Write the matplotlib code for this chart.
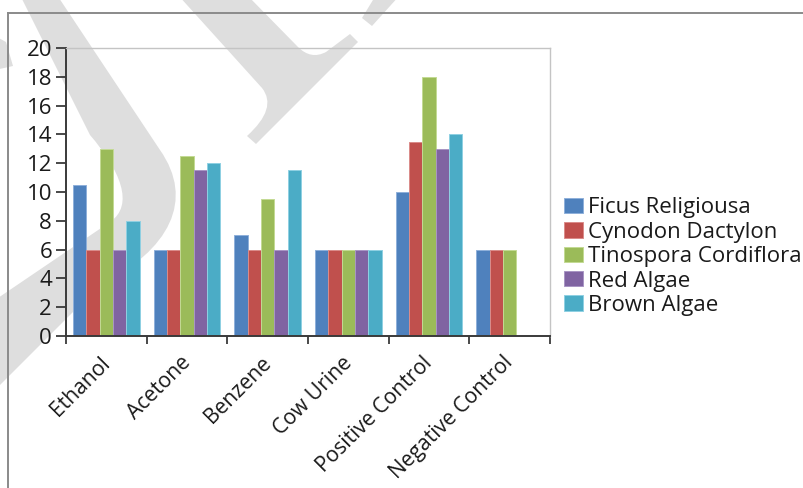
import numpy as np
import matplotlib
matplotlib.use("Agg")
import matplotlib.pyplot as plt
import matplotlib.transforms as mtransforms
from matplotlib.path import Path
from matplotlib.patches import PathPatch
from matplotlib.lines import Line2D

plt.rcParams['font.family'] = ['Open Sans', 'DejaVu Sans']

# ---- data ----
categories = ["Ethanol", "Acetone", "Benzene", "Cow Urine",
              "Positive Control", "Negative Control"]
series_names = ["Ficus Religiousa", "Cynodon Dactylon", "Tinospora Cordiflora",
                "Red Algae", "Brown Algae"]
ficus = [10.5, 6, 7, 6, 10, 6]
cynodon = [6, 6, 6, 6, 13.5, 6]
tinospora = [13, 12.5, 9.5, 6, 18, 6]
red_algae = [6, 11.5, 6, 6, 13, 0]
brown_algae = [8, 12, 11.5, 6, 14, 0]
y_ticks = [0, 2, 4, 6, 8, 10, 12, 14, 16, 18, 20]

series_values = [ficus, cynodon, tinospora, red_algae, brown_algae]
colors = ["#4F81BD", "#C0504D", "#9BBB59", "#8064A2", "#4BACC6"]
edges = ["#8FB0DA", "#DA8C8A", "#C3DA94", "#A996C4", "#8FD0E2"]

W, H = 804, 488
fig = plt.figure(figsize=(W / 100, H / 100), dpi=100)


def px(x, y):
    return (x / W, 1 - y / H)


# ---- faint background watermark strokes ----
wm_color = "#DEDEDE"
M, L, C3, C4, CL = Path.MOVETO, Path.LINETO, Path.CURVE3, Path.CURVE4, Path.CLOSEPOLY
shapes = [
    # large S-like stroke
    ([(20, -5), (57, -5), (160, 150), (195, 200), (170, 250), (100, 285),
      (-5, 390), (-5, 300), (110, 222), (135, 205), (120, 170), (90, 135),
      (20, -5)],
     [M, L, L, C4, C4, C4, L, L, L, C4, C4, C4, CL]),
    # forked stroke
    ([(178, -5), (247, -5), (298, 47), (311, 60), (326, 52), (350, 34),
      (358, 42), (256, 144), (247, 136), (278, 108), (262, 88), (178, -5)],
     [M, L, L, C3, C3, L, L, L, L, C3, C3, CL]),
    # short stroke at the top
    ([(376, -5), (400, -5), (372, 26), (362, 18), (376, -5)],
     [M, L, L, L, CL]),
    # sliver at the left edge
    ([(-5, 36), (6, 42), (13, 66), (-5, 70), (-5, 36)],
     [M, L, L, L, CL]),
]
for verts, codes in shapes:
    p = Path([px(x, y) for x, y in verts], codes)
    fig.patches.append(PathPatch(p, transform=fig.transFigure, facecolor=wm_color,
                                 edgecolor="none", zorder=-2))

# outer chart frame (top and left edges)
fig.lines.append(Line2D([px(8, 0)[0], px(8, 0)[0]], [px(0, 12.5)[1], px(0, 490)[1]],
                        transform=fig.transFigure, color="#8A8A8A", lw=1.4, zorder=-1))
fig.lines.append(Line2D([px(8, 0)[0], px(806, 0)[0]], [px(0, 12.5)[1], px(0, 12.5)[1]],
                        transform=fig.transFigure, color="#8A8A8A", lw=1.4, zorder=-1))

# ---- plot area ----
left, right, top, bottom = 66, 550, 48, 336
ax = fig.add_axes([left / W, 1 - bottom / H, (right - left) / W, (bottom - top) / H])
ax.set_facecolor("none")

n = len(series_names)
x = np.arange(len(categories))
bar_w = 0.165
for i, (name, vals) in enumerate(zip(series_names, series_values)):
    offs = (i - (n - 1) / 2) * bar_w
    ax.bar(x + offs, vals, width=bar_w, color=colors[i], edgecolor=edges[i],
           linewidth=0.7, label=name, zorder=2)

ax.set_xlim(-0.5, len(categories) - 0.5)
ax.set_ylim(0, 20)
ax.set_yticks(y_ticks)
ax.set_yticklabels([str(v) for v in y_ticks])

# category boundaries carry the tick marks, centres carry the labels
ax.set_xticks(np.arange(-0.5, len(categories), 1.0))
ax.set_xticklabels([])
ax.set_xticks(x, minor=True)
ax.set_xticklabels(categories, minor=True, rotation=45, ha="right", va="top",
                   rotation_mode="anchor")
ax.tick_params(axis="x", which="major", direction="out", length=6, width=1.3,
               color="#3A3A3A")
ax.tick_params(axis="x", which="minor", length=0, pad=11.8, labelsize=15.2,
               labelcolor="#1A1A1A")
ax.tick_params(axis="y", direction="out", length=7.5, width=1.3, color="#3A3A3A",
               pad=2.5, labelsize=16, labelcolor="#1A1A1A")

shift = mtransforms.ScaledTranslation(-7 / 100, 0, fig.dpi_scale_trans)
for lab in ax.get_xticklabels(minor=True):
    lab.set_transform(lab.get_transform() + shift)

for s in ("left", "bottom"):
    ax.spines[s].set_color("#3A3A3A")
    ax.spines[s].set_linewidth(1.4)
for s in ("top", "right"):
    ax.spines[s].set_color("#C4C4C4")
    ax.spines[s].set_linewidth(1.0)

leg = ax.legend(loc="upper left", bbox_to_anchor=px(564, 197.5),
                bbox_transform=fig.transFigure, frameon=False, fontsize=16,
                handlelength=0.86, handleheight=0.68, handletextpad=0.23,
                borderpad=0, borderaxespad=0, labelspacing=0.15,
                labelcolor="#1A1A1A")

fig.savefig("out.png", dpi=100)
